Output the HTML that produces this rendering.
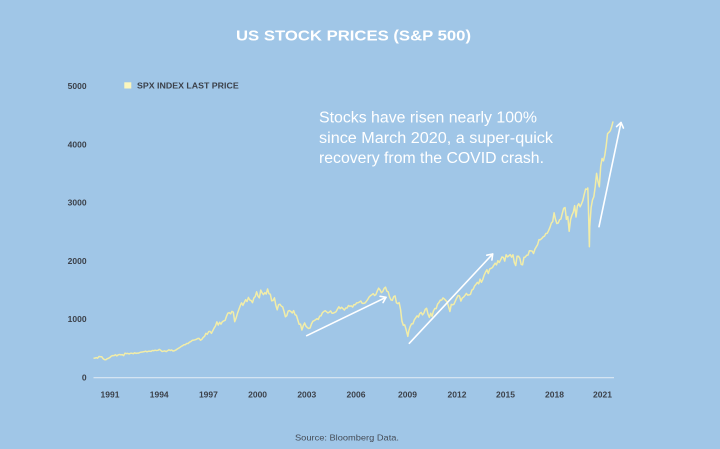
<!DOCTYPE html>
<html>
<head>
<meta charset="utf-8">
<style>
  html, body { margin:0; padding:0; width:720px; height:449px; overflow:hidden; background:#a0c6e7; }
  svg { display:block; }
  .lbl { font-family:"Liberation Sans", sans-serif; font-weight:bold; font-size:8.5px; fill:#3c414a; }
</style>
</head>
<body>
<svg width="720" height="449" viewBox="0 0 720 449" xmlns="http://www.w3.org/2000/svg">
  <rect x="0" y="0" width="720" height="449" fill="#a0c6e7"/>

  <!-- Title -->
  <text x="236" y="40.5" textLength="235" lengthAdjust="spacingAndGlyphs" font-family="Liberation Sans, sans-serif" font-weight="bold" font-size="15" fill="#ffffff">US STOCK PRICES (S&amp;P 500)</text>

  <!-- Legend -->
  <rect x="124.3" y="82.3" width="7" height="6.2" fill="#fbf6bd"/>
  <text x="137" y="88.6" textLength="101.7" lengthAdjust="spacingAndGlyphs" class="lbl" style="font-size:8.2px">SPX INDEX LAST PRICE</text>

  <!-- Y labels -->
  <g class="lbl" text-anchor="end">
    <text x="86.6" y="89">5000</text>
    <text x="86.6" y="147.3">4000</text>
    <text x="86.6" y="205.6">3000</text>
    <text x="86.6" y="263.9">2000</text>
    <text x="86.6" y="322.2">1000</text>
    <text x="86.6" y="380.7">0</text>
  </g>

  <!-- X labels -->
  <g class="lbl" text-anchor="middle">
    <text x="110" y="397.5">1991</text>
    <text x="159.2" y="397.5">1994</text>
    <text x="208.4" y="397.5">1997</text>
    <text x="257.6" y="397.5">2000</text>
    <text x="306.8" y="397.5">2003</text>
    <text x="356" y="397.5">2006</text>
    <text x="407.5" y="397.5">2009</text>
    <text x="457" y="397.5">2012</text>
    <text x="505.5" y="397.5">2015</text>
    <text x="554.5" y="397.5">2018</text>
    <text x="602.5" y="397.5">2021</text>
  </g>

  <!-- Axis line -->
  <line x1="93.5" y1="377.7" x2="614" y2="377.7" stroke="#dbe8f4" stroke-width="1.2"/>

  <!-- Series -->
  <g transform="translate(93.5 377.5) scale(1.3708 -0.05832)">
    <polyline fill="none" stroke="#f2eda8" stroke-width="1.5" stroke-linejoin="round" vector-effect="non-scaling-stroke" points="
0,329 1,332 2,340 3,331 4,361 5,358 6,356 7,323 8,306 9,304 10,322 11,330
12,344 13,367 14,375 15,375 16,390 17,371 18,388 19,395 20,388 21,392 22,375 23,417
24,409 25,413 26,404 27,415 28,415 29,408 30,424 31,414 32,418 33,419 34,431 35,436
36,439 37,443 38,452 39,440 40,450 41,451 42,448 43,464 44,459 45,468 46,462 47,466
48,482 49,467 50,446 51,451 52,457 53,444 54,458 55,475 56,463 57,472 58,454 59,459
60,470 61,487 62,501 63,515 64,533 65,545 66,562 67,562 68,584 69,582 70,605 71,616
72,636 73,640 74,646 75,654 76,669 77,671 78,640 79,652 80,687 81,705 82,757 83,741
84,786 85,791 86,757 87,801 88,848 89,885 90,954 91,899 92,947 93,915 94,955 95,970
96,980 97,1049 98,1102 99,1112 100,1091 101,1134 102,1121 103,957 104,1017 105,1099 106,1164 107,1229
108,1280 109,1238 110,1286 111,1335 112,1302 113,1373 114,1329 115,1320 116,1283 117,1363 118,1389 119,1469
120,1394 121,1366 122,1499 123,1452 124,1421 125,1455 126,1431 127,1518 128,1437 129,1429 130,1315 131,1320
132,1366 133,1240 134,1160 135,1249 136,1256 137,1224 138,1211 139,1134 140,1041 141,1060 142,1139 143,1148
144,1130 145,1107 146,1147 147,1077 148,1067 149,990 150,912 151,916 152,815 153,886 154,936 155,880
156,856 157,841 158,848 159,917 160,964 161,975 162,990 163,1008 164,996 165,1051 166,1058 167,1112
168,1131 169,1145 170,1126 171,1107 172,1121 173,1141 174,1102 175,1104 176,1115 177,1130 178,1174 179,1212
180,1181 181,1204 182,1181 183,1157 184,1192 185,1191 186,1234 187,1220 188,1229 189,1207 190,1249 191,1248
192,1280 193,1281 194,1295 195,1311 196,1270 197,1270 198,1277 199,1304 200,1336 201,1378 202,1401 203,1418
204,1438 205,1407 206,1421 207,1482 208,1531 209,1503 210,1455 211,1474 212,1527 213,1549 214,1481 215,1468
216,1379 217,1331 218,1323 219,1386 220,1400 221,1280 222,1267 223,1283 224,1166 225,969 226,896 227,903
228,826 229,735 229.3,705 230,798 231,873 232,919 233,919 234,987 235,1021 236,1057 237,1036 238,1096 239,1115
240,1074 241,1104 242,1169 243,1187 244,1089 245,1031 246,1102 247,1049 248,1141 249,1183 250,1181 251,1258
252,1286 253,1327 254,1326 255,1364 256,1345 257,1321 258,1292 259,1219 260,1131 261,1253 262,1247 263,1258
264,1312 265,1366 266,1408 267,1398 268,1310 269,1362 270,1379 271,1407 272,1441 273,1412 274,1416 275,1426
276,1498 277,1515 278,1569 279,1598 280,1631 281,1606 282,1686 283,1633 284,1682 285,1757 286,1806 287,1848
288,1783 289,1859 290,1872 291,1884 292,1924 293,1960 294,1931 295,2003 296,1972 297,2018 298,2068 299,2059
300,1995 301,2105 302,2068 303,2086 304,2107 305,2063 306,2104 307,1972 308,1920 309,2079 310,2080 311,2044
312,1940 313,1932 314,2060 315,2065 316,2097 317,2099 318,2174 319,2171 320,2168 321,2126 322,2199 323,2239
324,2279 325,2364 326,2363 327,2384 328,2412 329,2423 330,2470 331,2472 332,2519 333,2575 334,2648 335,2674
336,2824 337,2714 338,2641 339,2648 340,2705 341,2718 342,2816 343,2902 344,2914 345,2711 346,2760 347,2507
348,2704 349,2784 350,2834 351,2946 352,2752 353,2942 354,2980 355,2926 356,2977 357,3038 358,3141 359,3231
360,3226 360.6,3250 361,2954 361.75,2243 362,2585 363,2912 364,3044 365,3100 366,3271 367,3500 368,3363 369,3270 370,3622 371,3756
372,3714 373,3811 374,3973 375,4181 376,4204 377,4230 378,4300 379,4390"/>
  </g>

  <!-- Arrows -->
  <g stroke="#ffffff" stroke-width="1.6" stroke-linecap="round" stroke-linejoin="round" fill="none">
    <line x1="306.7" y1="335.7" x2="386" y2="297.3"/>
    <polyline points="380.1,296.3 386,297.3 383.1,302.5"/>
    <line x1="409.3" y1="343.3" x2="492.7" y2="254"/>
    <polyline points="486.8,255.2 492.7,254 491.9,260"/>
    <line x1="599" y1="226.7" x2="621" y2="122.5"/>
    <polyline points="616.6,126.6 621,122.5 623.4,128"/>
  </g>

  <!-- Annotation -->
  <g font-family="Liberation Sans, sans-serif" font-size="15.3" fill="#ffffff">
    <text x="319" y="122.7" textLength="218" lengthAdjust="spacingAndGlyphs">Stocks have risen nearly 100%</text>
    <text x="319" y="142.8" textLength="234" lengthAdjust="spacingAndGlyphs">since March 2020, a super-quick</text>
    <text x="319" y="163" textLength="225" lengthAdjust="spacingAndGlyphs">recovery from the COVID crash.</text>
  </g>

  <!-- Source -->
  <text x="295" y="440.6" textLength="104" lengthAdjust="spacingAndGlyphs" font-family="Liberation Sans, sans-serif" font-size="8.2" fill="#454c57">Source: Bloomberg Data.</text>
</svg>
</body>
</html>
